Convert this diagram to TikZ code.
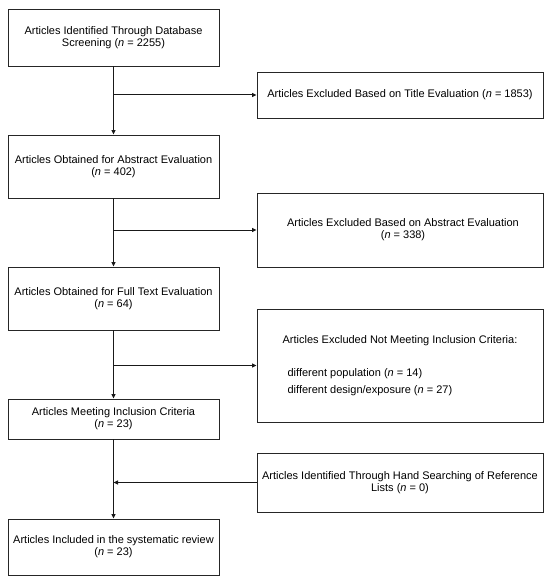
\documentclass[tikz,border=0pt]{standalone}
\usepackage{fontspec}
\setmainfont{Liberation Sans}
\usetikzlibrary{arrows.meta}
\begin{document}
\begin{tikzpicture}[x=1pt,y=-1pt,
 box/.style={draw=black!85, line width=0.9pt, rectangle, inner sep=0pt, align=center, font=\fontsize{11}{12.2}\selectfont},
 lbox/.style={box, minimum width=211pt},
 rbox/.style={box, minimum width=286pt},
 conn/.style={line width=1pt, draw=black!90},
 arr/.style={conn, -{Triangle[length=4.5pt,width=4pt]}}]
\useasboundingbox (0,0) rectangle (550,580);
\node[lbox, minimum height=57pt] (b1) at (113.5,37.5) {Articles Identified Through Database\\Screening (\textit{n} = 2255)};
\node[rbox, minimum height=46pt] (b2) at (400,95) {Articles Excluded Based on Title Evaluation (\textit{n} = 1853)};
\node[lbox, minimum height=63pt] (b3) at (113.5,166.5) {Articles Obtained for Abstract Evaluation\\(\textit{n} = 402)};
\node[rbox, minimum height=74pt] (b4) at (400,230) {\hspace*{6pt}Articles Excluded Based on Abstract Evaluation\\\hspace*{6pt}(\textit{n} = 338)};
\node[lbox, minimum height=63pt] (b5) at (113.5,298.5) {Articles Obtained for Full Text Evaluation\\(\textit{n} = 64)};
\node[rbox, minimum height=113pt, align=left] (b6) at (400,365.5) {Articles Excluded Not Meeting Inclusion Criteria:\\[20.5pt]\hspace*{5pt}different population (\textit{n} = 14)\\[4.5pt]\hspace*{5pt}different design/exposure (\textit{n} = 27)};
\node[lbox, minimum height=40pt] (b7) at (113.5,419) {Articles Meeting Inclusion Criteria\\(\textit{n} = 23)};
\node[rbox, minimum height=59pt] (b8) at (400,482.5) {Articles Identified Through Hand Searching of Reference\\Lists (\textit{n} = 0)};
\node[lbox, minimum height=56pt] (b9) at (113.5,547) {Articles Included in the systematic review\\(\textit{n} = 23)};
\coordinate (j1) at (b1.south |- b2.west);
\coordinate (j2) at (b3.south |- b4.west);
\coordinate (j3) at (b5.south |- b6.west);
\coordinate (j4) at (b7.south |- b8.west);
\draw[arr] (b1.south) -- (b3.north);
\draw[arr] (j1) -- (b2.west);
\draw[arr] (b3.south) -- (b5.north);
\draw[arr] (j2) -- (b4.west);
\draw[arr] (b5.south) -- (b7.north);
\draw[arr] (j3) -- (b6.west);
\draw[arr] (b7.south) -- (b9.north);
\draw[arr] (b8.west) -- (j4);
\end{tikzpicture}
\end{document}
